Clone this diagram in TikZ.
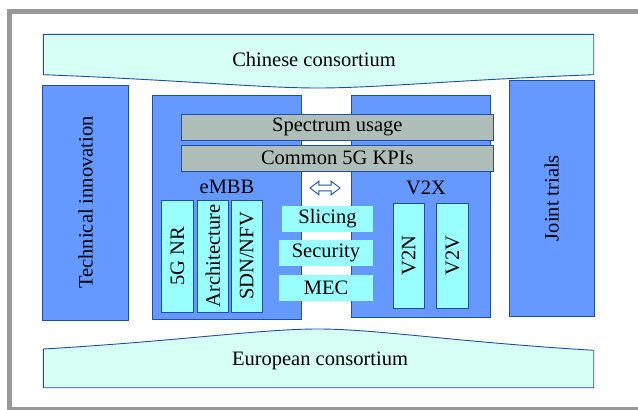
\documentclass[tikz,border=0pt]{standalone}
\usepackage{fontspec}
\setmainfont{Liberation Serif}
\usetikzlibrary{shapes.arrows}
\definecolor{bl}{RGB}{102,153,255}
\definecolor{bd}{RGB}{32,78,160}
\definecolor{gy}{RGB}{176,190,186}
\definecolor{cy}{RGB}{153,255,255}
\definecolor{lc}{RGB}{214,255,246}
\definecolor{fr}{RGB}{153,153,153}
\tikzset{
  txt/.style={font=\fontsize{20.5}{24}\selectfont, inner sep=0pt},
  bigbox/.style={txt, draw=bd, fill=bl, line width=0.9pt},
  bar/.style={txt, draw=bd, fill=gy, line width=0.9pt},
  item/.style={txt, draw=bd, fill=cy, line width=0.9pt},
  plain/.style={txt, fill=cy},
  consortium/.style={draw=bd, fill=lc, line width=0.9pt}
}

\begin{document}
\begin{tikzpicture}[x=1pt, y=-1pt]
        \useasboundingbox (0,0) rectangle (638,410);
        \draw[fr, line width=5pt] (9.5,11.5) rectangle (660,409.5);
        % consortia
        \draw[consortium] (43.3,34.3) -- (593.7,34.3) -- (593.7,74.7)
            .. controls (456,80) and (376,88) .. (318,88)
            .. controls (260,88) and (180,80) .. (43.3,74.7) -- cycle;
        \draw[consortium] (43.3,387.7) -- (593.7,387.7) -- (593.7,350.3)
            .. controls (456,342) and (376,329) .. (318,329)
            .. controls (260,329) and (180,341) .. (43.3,349) -- cycle;
        \node[txt] (cn) at (314,59) {Chinese consortium};
        \node[txt] (eu) at (320,361) {European consortium};
        % side boxes
        \node[bigbox, rotate=90, minimum width=235pt, minimum height=85.5pt] (tech) at (85.5,202.5) {Technical innovation};
        \node[bigbox, rotate=90, minimum width=235.7pt, minimum height=84.7pt] (joint) at (551.65,198.15) {Joint trials};
        % use cases
        \node[bigbox, minimum width=148.3pt, minimum height=224pt] (embb) at (226.85,207) {};
        \node[bigbox, minimum width=139.3pt, minimum height=222.7pt] (v2x) at (420.65,206.35) {};
        \node[txt] (embbl) at (227,187) {eMBB};
        \node[txt] (v2xl) at (426,188) {V2X};
        \node[bar, minimum width=312.7pt, minimum height=26pt] (spec) at (337.35,127.3) {Spectrum usage};
        \node[bar, minimum width=312.7pt, minimum height=25.7pt] (kpi) at (337.35,158.15) {Common 5G KPIs};
        \node[item, rotate=90, minimum width=112pt, minimum height=31.6pt] (nr) at (177.5,256) {5G NR};
        \node[item, rotate=90, minimum width=112pt, minimum height=31pt] (arch) at (212.8,256) {Architecture};
        \node[item, rotate=90, minimum width=112pt, minimum height=31.3pt] (sdn) at (246.65,256) {SDN/NFV};
        \node[item, rotate=90, minimum width=105pt, minimum height=31pt] (v2n) at (408.8,255.8) {V2N};
        \node[item, rotate=90, minimum width=105pt, minimum height=31.6pt] (v2v) at (452.5,255.8) {V2V};
        % shared topics
        \node[plain, minimum width=91.6pt, minimum height=26pt] (slice) at (327.5,218.7) {Slicing};
        \node[plain, minimum width=93.4pt, minimum height=25.7pt] (sec) at (326,252.85) {Security};
        \node[plain, minimum width=93.4pt, minimum height=26pt] (mec) at (326,288) {MEC};
        \node[double arrow, draw=bd, fill=white, line width=0.9pt, minimum width=13pt, minimum height=30pt,
            double arrow head extend=4pt, double arrow tip angle=75, inner sep=2.4pt] (swap) at (325,188) {};
    \end{tikzpicture}
\end{document}
